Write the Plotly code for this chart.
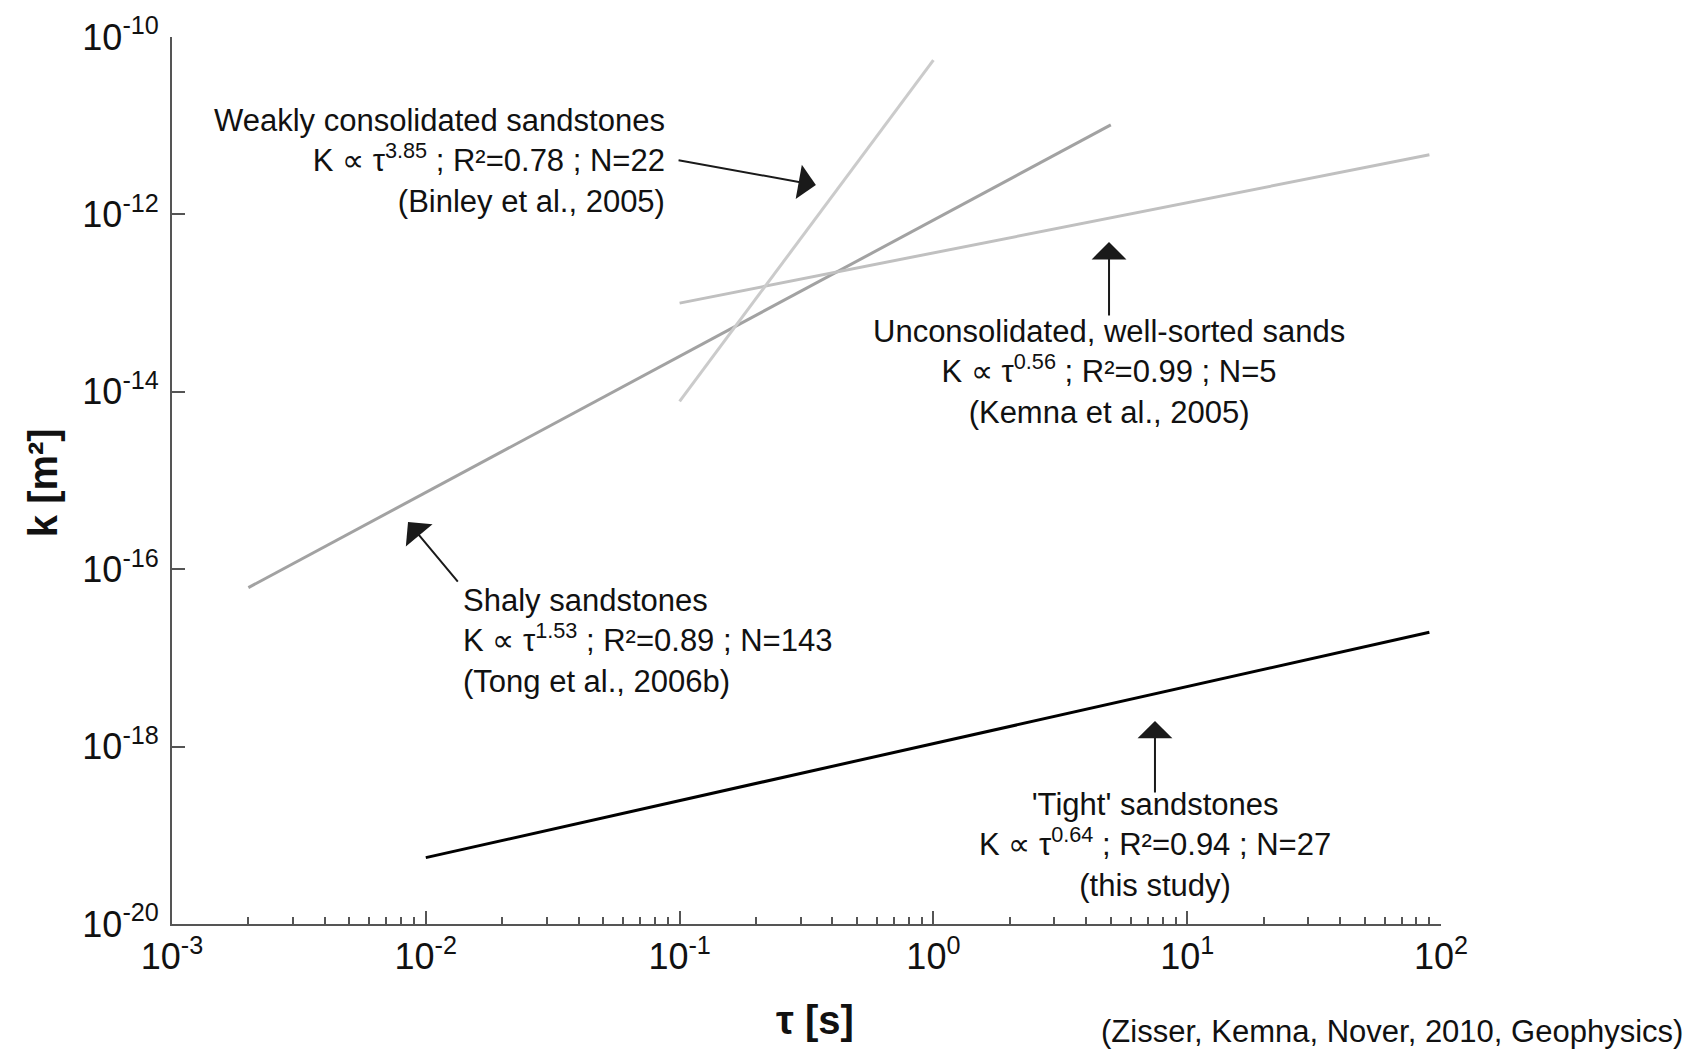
import plotly.graph_objects as go

# Power-law fits k ∝ τ^b, each drawn between its two end points (τ in s, k in m²)
tight_tau = [0.01, 90.0]
tight_k = [5.6e-20, 1.95e-17]

shaly_tau = [0.002, 5.0]
shaly_k = [6.2e-17, 1.02e-11]

weakly_tau = [0.1, 1.0]
weakly_k = [7.8e-15, 5.5e-11]

uncons_tau = [0.1, 90.0]
uncons_k = [1.0e-13, 4.7e-12]

# Axis ticks
x_tick_vals = [1e-3, 1e-2, 1e-1, 1e0, 1e1, 1e2]
x_tick_text = ["10<sup>-3</sup>", "10<sup>-2</sup>", "10<sup>-1</sup>",
               "10<sup>0</sup>", "10<sup>1</sup>", "10<sup>2</sup>"]
y_tick_vals = [1e-20, 1e-18, 1e-16, 1e-14, 1e-12, 1e-10]
y_tick_text = ["10<sup>-20</sup>", "10<sup>-18</sup>", "10<sup>-16</sup>",
               "10<sup>-14</sup>", "10<sup>-12</sup>", "10<sup>-10</sup>"]

FONT = "Liberation Sans, Arial, sans-serif"
AXIS_COLOR = "#555555"

fig = go.Figure()

fig.add_trace(go.Scatter(x=shaly_tau, y=shaly_k, mode="lines",
                         line=dict(color="#a2a2a2", width=3), name="Shaly sandstones"))
fig.add_trace(go.Scatter(x=uncons_tau, y=uncons_k, mode="lines",
                         line=dict(color="#c0c0c0", width=3), name="Unconsolidated sands"))
fig.add_trace(go.Scatter(x=weakly_tau, y=weakly_k, mode="lines",
                         line=dict(color="#cbcbcb", width=3), name="Weakly consolidated"))
fig.add_trace(go.Scatter(x=tight_tau, y=tight_k, mode="lines",
                         line=dict(color="#000000", width=3), name="Tight sandstones"))

# minor ticks on the τ axis: 2..9 within each decade
minor_x = [m * 10.0 ** d for d in range(-3, 2) for m in range(2, 10)]

fig.update_xaxes(
    type="log", range=[-3, 2],
    tickmode="array", tickvals=x_tick_vals, ticktext=x_tick_text,
    ticks="inside", ticklen=13, tickwidth=2, tickcolor=AXIS_COLOR,
    minor=dict(tickmode="array", tickvals=minor_x, ticks="inside",
               ticklen=7, tickwidth=1.5, tickcolor=AXIS_COLOR, showgrid=False),
    showline=True, linecolor=AXIS_COLOR, linewidth=2,
    showgrid=False, zeroline=False,
    tickfont=dict(family=FONT, size=36, color="#111111"),
    ticklabelstandoff=0,
)
fig.update_yaxes(
    type="log", range=[-20, -10],
    tickmode="array", tickvals=y_tick_vals, ticktext=y_tick_text,
    ticks="inside", ticklen=13, tickwidth=2, tickcolor=AXIS_COLOR,
    showline=True, linecolor=AXIS_COLOR, linewidth=2,
    showgrid=False, zeroline=False,
    tickfont=dict(family=FONT, size=36, color="#111111"),
    ticklabelstandoff=4,
)

ann_font = dict(family=FONT, size=31, color="#111111")
annotations = [
    # text blocks (positions in log10 units)
    dict(x=-1.05, y=-11.40, xref="x", yref="y", showarrow=False,
         xanchor="right", yanchor="middle", align="right", font=ann_font,
         text="Weakly consolidated sandstones<br>K ∝ τ<sup>3.85</sup> ; R²=0.78 ; N=22<br>(Binley et al., 2005)"),
    dict(x=0.692, y=-13.78, xref="x", yref="y", showarrow=False,
         xanchor="center", yanchor="middle", align="center", font=ann_font,
         text="Unconsolidated, well-sorted sands<br>K ∝ τ<sup>0.56</sup> ; R²=0.99 ; N=5<br>(Kemna et al., 2005)"),
    dict(x=-1.861, y=-16.81, xref="x", yref="y", showarrow=False,
         xanchor="left", yanchor="middle", align="left", font=ann_font,
         text="Shaly sandstones<br>K ∝ τ<sup>1.53</sup> ; R²=0.89 ; N=143<br>(Tong et al., 2006b)"),
    dict(x=0.873, y=-19.11, xref="x", yref="y", showarrow=False,
         xanchor="center", yanchor="middle", align="center", font=ann_font,
         text="'Tight' sandstones<br>K ∝ τ<sup>0.64</sup> ; R²=0.94 ; N=27<br>(this study)"),
]

# arrows: (head_x, head_y, tail_x, tail_y) in log10 units
arrows = [
    (-0.463, -11.669, -1.010, -11.387),
    (0.692, -12.311, 0.692, -13.157),
    (-2.070, -15.468, -1.869, -16.156),
    (0.873, -17.711, 0.873, -18.534),
]
for hx, hy, tx, ty in arrows:
    annotations.append(dict(
        x=hx, y=hy, ax=tx, ay=ty, xref="x", yref="y", axref="x", ayref="y",
        text="", showarrow=True, arrowhead=1, arrowsize=2.9, arrowwidth=2,
        arrowcolor="#1a1a1a", standoff=0, startstandoff=0,
    ))

# axis titles and source note
annotations += [
    dict(x=0.5067, y=-0.108, xref="paper", yref="paper", showarrow=False,
         xanchor="center", yanchor="middle",
         text="<b>τ [s]</b>", font=dict(family=FONT, size=40, color="#111111")),
    dict(x=-0.1017, y=0.498, xref="paper", yref="paper", showarrow=False,
         xanchor="center", yanchor="middle", textangle=-90,
         text="<b>k [m²]</b>", font=dict(family=FONT, size=40, color="#111111")),
    dict(x=1.1923, y=-0.121, xref="paper", yref="paper", showarrow=False,
         xanchor="right", yanchor="middle",
         text="(Zisser, Kemna, Nover, 2010, Geophysics)",
         font=dict(family=FONT, size=31, color="#111111")),
]

fig.update_layout(
    width=1688, height=1053,
    margin=dict(l=172, r=247, t=37, b=129),
    plot_bgcolor="white", paper_bgcolor="white",
    showlegend=False,
    annotations=annotations,
    font=dict(family=FONT),
)

fig.write_html("out.html")
